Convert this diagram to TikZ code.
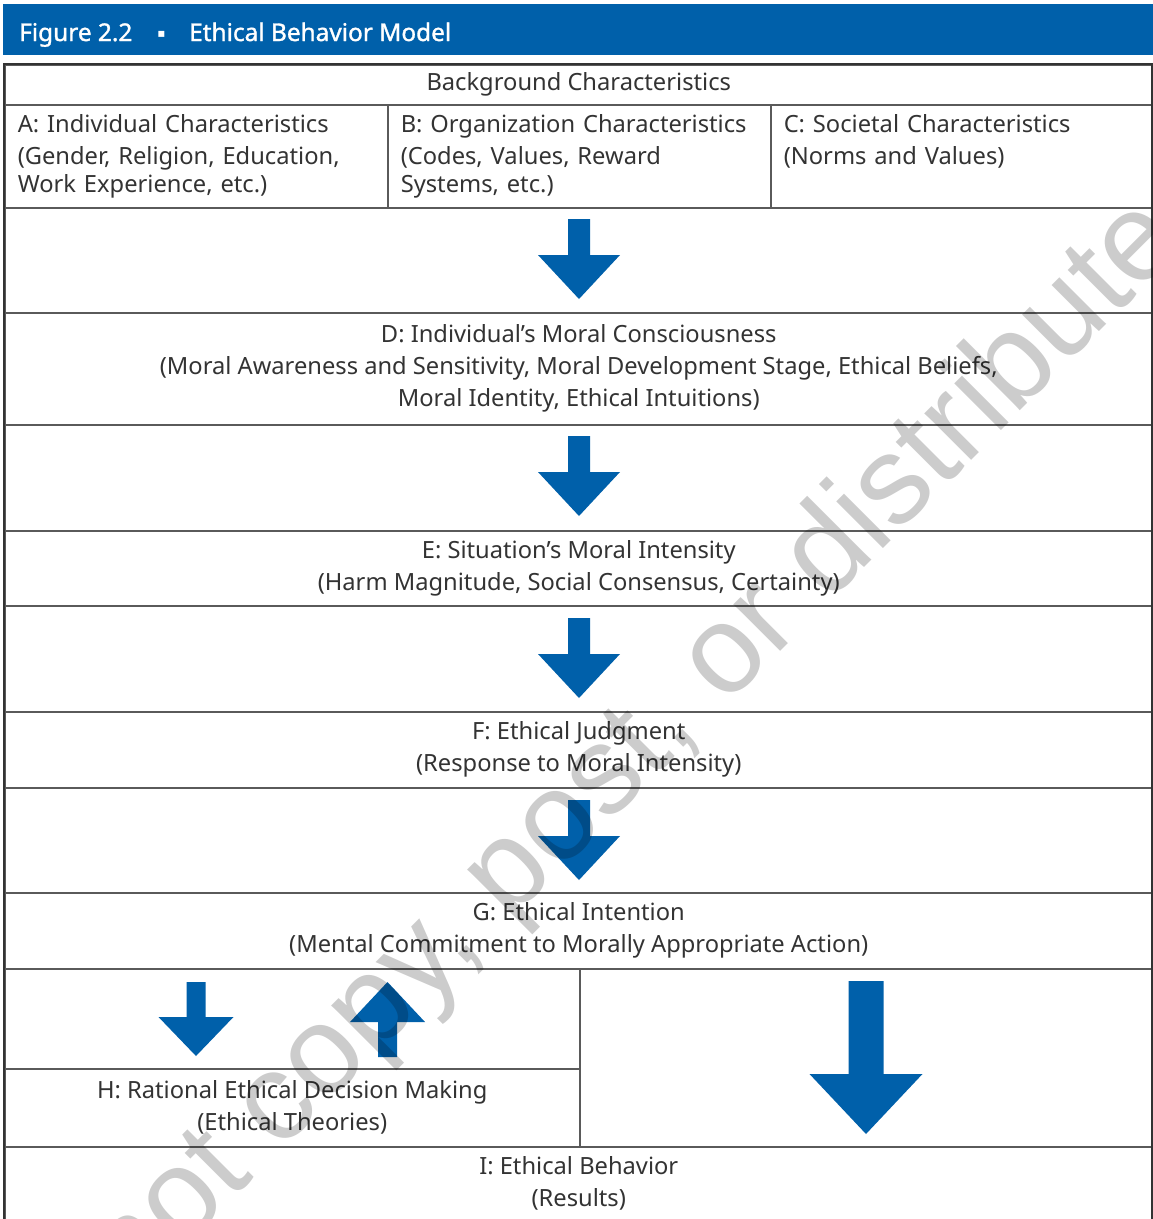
\documentclass[tikz,border=0pt]{standalone}
\usepackage{fontspec}
\setmainfont{Noto Sans}
\newfontfamily\hdrfont{Noto Sans}[FakeBold=1.3]
\newfontfamily\wmfont{Liberation Sans}
\newfontfamily\symfont{DejaVu Sans}
\definecolor{figblue}{RGB}{0,96,170}
\definecolor{txtgray}{RGB}{51,51,51}
\definecolor{rulegray}{RGB}{90,90,90}
\newcommand{\blockarrow}[6]{% cx, shaft end, tip, shaft width, head width, head length (signed)
  \fill[figblue] ({#1-#4/2},{#2}) -- ({#1+#4/2},{#2}) -- ({#1+#4/2},{#3-(#6)}) -- ({#1+#5/2},{#3-(#6)}) -- ({#1},{#3}) -- ({#1-#5/2},{#3-(#6)}) -- ({#1-#4/2},{#3-(#6)}) -- cycle;}
\begin{document}
\begin{tikzpicture}[x=1pt,y=-1pt,
  cell/.style={draw=rulegray, line width=1.5pt, inner sep=0pt, anchor=north west,
    font=\fontsize{23.7}{32}\selectfont, text=txtgray, align=center},
  leftcell/.style={cell, align=left, text width=357pt, inner xsep=13pt},
  hdrtext/.style={anchor=base west, inner sep=0pt, text=white, font=\hdrfont\fontsize{24.4}{28}\selectfont},
  watermark/.style={rotate=45, inner sep=0pt, font=\wmfont\fontsize{125}{125}\selectfont,
    text=black, text opacity=0.2}
]
\useasboundingbox (0,0) rectangle (1153,1219);
\clip (0,0) rectangle (1153,1219);
\fill[white] (0,0) rectangle (1153,1219);

% header
\node[fill=figblue, inner sep=0pt, anchor=north west, minimum width=1150pt, minimum height=51pt] (hdr) at (3,4) {};
\node[hdrtext] (fig) at (19,41) {Figure 2.2};
\node[text=white, inner sep=0pt, font=\symfont\fontsize{12}{12}\selectfont] (bul) at (161.5,34.5) {▪};
\node[hdrtext] (ttl) at (189,41) {Ethical Behavior Model};

% table cells
\node[cell, minimum width=1148pt, minimum height=40pt] (bg) at (4,64) {Background Characteristics};
\node[leftcell, minimum height=103pt] (A) at (4,104) {A: Individual Characteristics\\(Gender, Religion, Education,\\[-4pt]Work Experience, etc.)};
\node[leftcell, minimum height=103pt] (B) at (387,104) {B: Organization Characteristics\\(Codes, Values, Reward\\[-4pt]Systems, etc.)\vphantom{p}};
\node[leftcell, minimum height=103pt, text width=356pt] (C) at (770,104) {C: Societal Characteristics\\(Norms and Values)\\[-4pt]\vphantom{(Wp)}};
\node[cell, minimum width=1148pt, minimum height=105pt] (gap1) at (4,207) {};
\node[cell, minimum width=1148pt, minimum height=112pt] (D) at (4,312) {D: Individual’s Moral Consciousness\\(Moral Awareness and Sensitivity, Moral Development Stage, Ethical Beliefs,\\Moral Identity, Ethical Intuitions)};
\node[cell, minimum width=1148pt, minimum height=106pt] (gap2) at (4,424) {};
\node[cell, minimum width=1148pt, minimum height=75pt] (E) at (4,530) {E: Situation’s Moral Intensity\\(Harm Magnitude, Social Consensus, Certainty)};
\node[cell, minimum width=1148pt, minimum height=106pt] (gap3) at (4,605) {};
\node[cell, minimum width=1148pt, minimum height=76pt] (F) at (4,711) {F: Ethical Judgment\\(Response to Moral Intensity)};
\node[cell, minimum width=1148pt, minimum height=105pt] (gap4) at (4,787) {};
\node[cell, minimum width=1148pt, minimum height=76pt] (G) at (4,892) {G: Ethical Intention\\(Mental Commitment to Morally Appropriate Action)};
\node[cell, minimum width=575pt, minimum height=100pt] (gapL) at (4,968) {};
\node[cell, minimum width=575pt, minimum height=78pt] (H) at (4,1068) {H: Rational Ethical Decision Making\\(Ethical Theories)};
\node[cell, minimum width=573pt, minimum height=178pt] (gapR) at (579,968) {};
\node[cell, minimum width=1148pt, minimum height=74pt] (I) at (4,1146) {I: Ethical Behavior\\(Results)};

% outer frame
\draw[txtgray, line width=2.5pt] (4,1219) -- (4,64) -- (1152,64) -- (1152,1219);

% block arrows
\blockarrow{579}{219}{299}{22}{82}{44}
\blockarrow{579}{436}{516}{22}{82}{44}
\blockarrow{579}{618}{698}{22}{82}{44}
\blockarrow{579}{800}{880}{22}{82}{44}
\blockarrow{196}{982}{1056}{19}{75}{39}
\blockarrow{387.5}{1057}{982}{19}{75}{-40}
\blockarrow{866}{981}{1134}{35}{113}{60}

% watermark
\node[watermark] (wm) at (568,818) {Do not copy, post, or distribute};
\end{tikzpicture}
\end{document}
